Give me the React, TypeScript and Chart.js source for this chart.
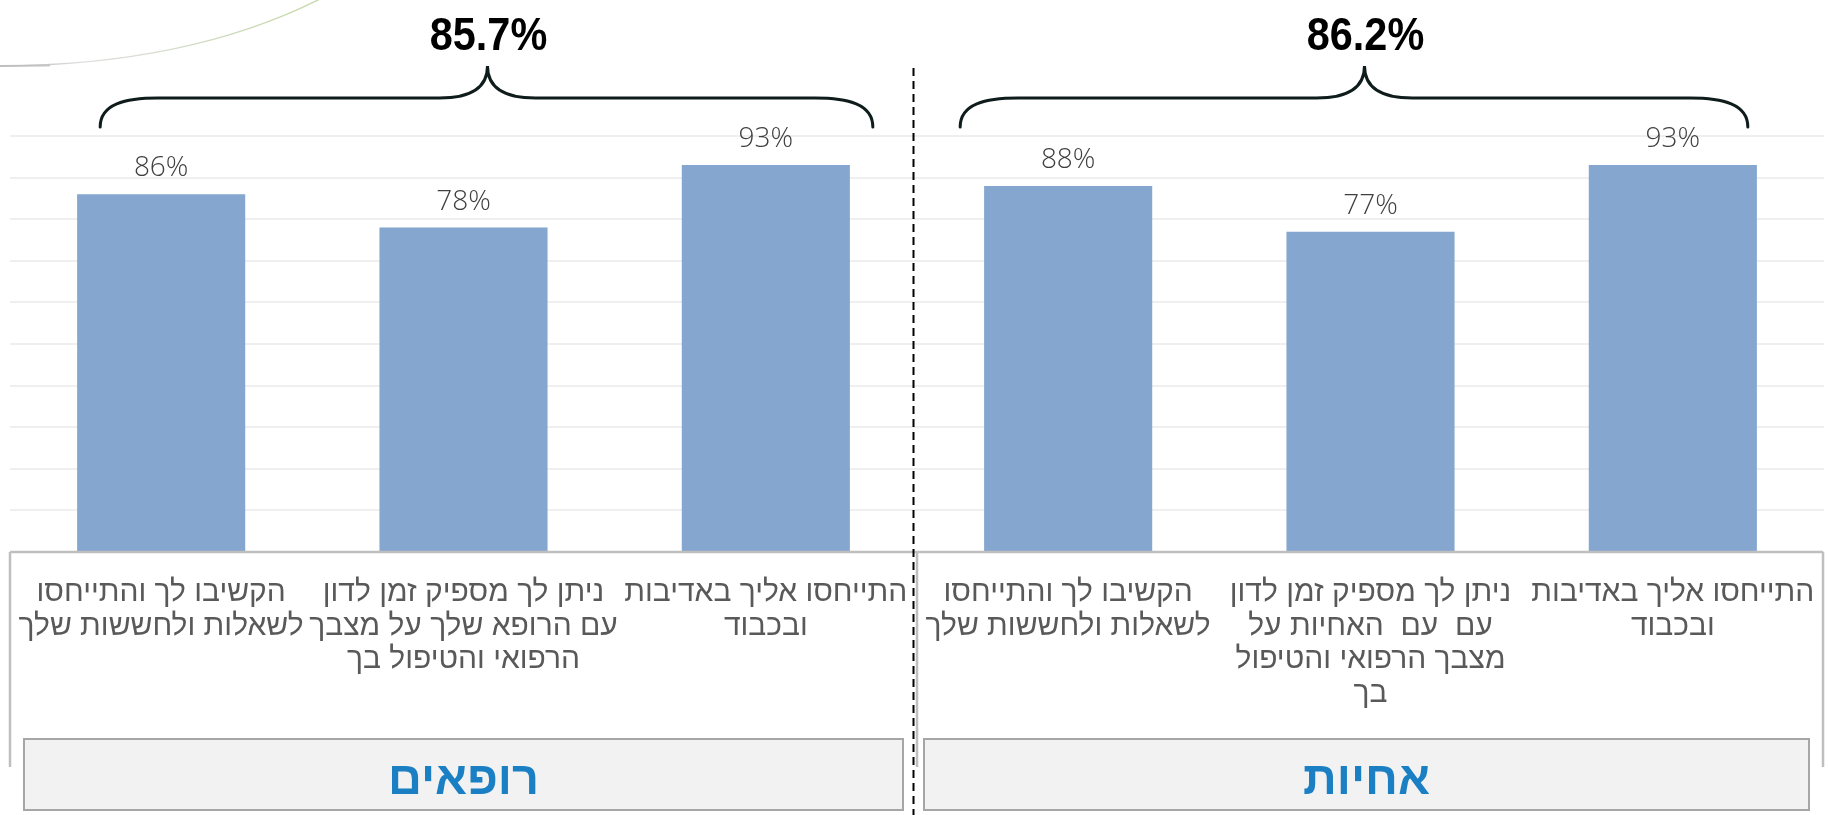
import React, { useEffect, useRef } from "react";
import { Chart, registerables } from "chart.js";

Chart.register(...registerables);

// ---- data ----
const categoryLabels: string[][] = [
  ["הקשיבו לך והתייחסו", "לשאלות ולחששות שלך"],
  ["ניתן לך מספיק זמן לדון", "עם הרופא שלך על מצבך", "הרפואי והטיפול בך"],
  ["התייחסו אליך באדיבות", "ובכבוד"],
  ["הקשיבו לך והתייחסו", "לשאלות ולחששות שלך"],
  ["ניתן לך מספיק זמן לדון", "עם  עם  האחיות על", "מצבך הרפואי והטיפול", "בך"],
  ["התייחסו אליך באדיבות", "ובכבוד"],
];
const values: number[] = [86, 78, 93, 88, 77, 93];
const groupNames: string[] = ["רופאים", "אחיות"];
const groupAverages: string[] = ["85.7%", "86.2%"];
const groupStart: number[] = [0, 3];
const groupEnd: number[] = [2, 5];
const yMin = 0;
const yMax = 100;
const yStep = 10;

export default function App() {
  const ref = useRef<HTMLCanvasElement>(null);

  useEffect(() => {
    const canvas = ref.current!;

    const decor = {
      id: "decor",
      beforeDraw(chart: any) {
        const ctx = chart.ctx as CanvasRenderingContext2D;
        ctx.save();
        ctx.fillStyle = "#ffffff";
        ctx.fillRect(0, 0, chart.width, chart.height);
        // faint decorative arc in the top-left corner
        const g = ctx.createLinearGradient(0, 0, 330, 0);
        g.addColorStop(0, "rgba(170,170,170,0.9)");
        g.addColorStop(0.25, "rgba(215,215,215,0.8)");
        g.addColorStop(1, "rgba(185,210,150,0.9)");
        ctx.strokeStyle = g;
        ctx.lineWidth = 1.3;
        ctx.beginPath();
        ctx.moveTo(322, -2);
        ctx.quadraticCurveTo(190, 65, 0, 66);
        ctx.stroke();
        ctx.strokeStyle = "rgba(190,190,190,0.8)";
        ctx.lineWidth = 2;
        ctx.beginPath();
        ctx.moveTo(0, 66);
        ctx.lineTo(50, 65.5);
        ctx.stroke();
        ctx.restore();
      },
      afterDatasetsDraw(chart: any) {
        const ctx = chart.ctx as CanvasRenderingContext2D;
        const xs = chart.scales.x;
        const ys = chart.scales.y;
        const area = chart.chartArea;
        const meta = chart.getDatasetMeta(0);
        const px = (i: number) => xs.getPixelForValue(i);
        const y0 = ys.getPixelForValue(0);

        ctx.save();
        // value labels
        ctx.fillStyle = "#3f3f3f";
        ctx.font = '300 28px "Open Sans"';
        ctx.textAlign = "center";
        ctx.textBaseline = "alphabetic";
        meta.data.forEach((el: any, i: number) => {
          ctx.fillText(values[i] + "%", el.x, el.y - 18);
        });

        // category frame
        const frameLeft = area.left;
        const frameRight = area.right - 1;
        const frameBottom = 767;
        const sep = (px(2) + px(3)) / 2;
        ctx.strokeStyle = "#bfbfbf";
        ctx.lineWidth = 2.5;
        ctx.beginPath();
        ctx.moveTo(frameLeft, y0);
        ctx.lineTo(frameRight, y0);
        ctx.moveTo(frameLeft, y0);
        ctx.lineTo(frameLeft, frameBottom);
        ctx.moveTo(frameRight, y0);
        ctx.lineTo(frameRight, frameBottom);
        ctx.moveTo(sep, y0);
        ctx.lineTo(sep, frameBottom);
        ctx.stroke();

        // category labels
        ctx.fillStyle = "#595959";
        ctx.font = '30px "Liberation Sans"';
        ctx.textAlign = "center";
        categoryLabels.forEach((lines, i) => {
          lines.forEach((line, k) => {
            ctx.fillText(line, px(i), 601 + k * 33.5);
          });
        });

        // group boxes
        const boxes = [
          [frameLeft + 14, sep - 14],
          [sep + 7, frameRight - 14],
        ];
        groupNames.forEach((name, gi) => {
          const [bx1, bx2] = boxes[gi];
          ctx.fillStyle = "#f2f2f2";
          ctx.fillRect(bx1, 739, bx2 - bx1, 71);
          ctx.strokeStyle = "#a6a6a6";
          ctx.lineWidth = 2;
          ctx.strokeRect(bx1, 739, bx2 - bx1, 71);
          ctx.fillStyle = "#1b7fc4";
          ctx.font = 'bold 47px "Liberation Sans"';
          ctx.textAlign = "center";
          ctx.fillText(name, (bx1 + bx2) / 2, 794);
        });

        // braces and averages
        const braceDefs = [
          { x1: px(groupStart[0]) - 61, x2: px(groupEnd[0]) + 107, tip: px(1) + 24 },
          { x1: px(groupStart[1]) - 108, x2: px(groupEnd[1]) + 75, tip: px(4) - 6 },
        ];
        const yEnd = 127, yBar = 98, yTip = 66;
        ctx.strokeStyle = "#0f1c1c";
        ctx.lineWidth = 3;
        ctx.lineCap = "round";
        braceDefs.forEach((b, gi) => {
          ctx.beginPath();
          ctx.moveTo(b.x1, yEnd);
          ctx.bezierCurveTo(b.x1, yBar + 6, b.x1 + 25, yBar, b.x1 + 58, yBar);
          ctx.lineTo(b.tip - 48, yBar);
          ctx.bezierCurveTo(b.tip - 14, yBar, b.tip, yBar - 12, b.tip, yTip);
          ctx.bezierCurveTo(b.tip, yBar - 12, b.tip + 14, yBar, b.tip + 48, yBar);
          ctx.lineTo(b.x2 - 58, yBar);
          ctx.bezierCurveTo(b.x2 - 25, yBar, b.x2, yBar + 6, b.x2, yEnd);
          ctx.stroke();
          ctx.save();
          ctx.translate(b.tip + 1, 50);
          ctx.scale(0.9, 1);
          ctx.fillStyle = "#000000";
          ctx.font = 'bold 46px "Liberation Sans"';
          ctx.textAlign = "center";
          ctx.fillText(groupAverages[gi], 0, 0);
          ctx.restore();
        });

        // dashed divider
        ctx.strokeStyle = "#000000";
        ctx.lineWidth = 2;
        ctx.lineCap = "butt";
        ctx.setLineDash([8, 5]);
        ctx.beginPath();
        ctx.moveTo(sep - 3.5, 68);
        ctx.lineTo(sep - 3.5, chart.height);
        ctx.stroke();
        ctx.setLineDash([]);
        ctx.restore();
      },
    };

    const chart = new Chart(canvas, {
      type: "bar",
      data: {
        labels: categoryLabels.map((l) => l.join(" ")),
        datasets: [
          {
            data: values,
            backgroundColor: "#84a6cf",
            barPercentage: 0.556,
            categoryPercentage: 1,
          },
        ],
      },
      options: {
        animation: false,
        responsive: false,
        devicePixelRatio: 1,
        layout: { padding: { left: 10, right: 5, top: 136, bottom: 263 } },
        plugins: { legend: { display: false }, tooltip: { enabled: false } },
        scales: {
          x: { display: false },
          y: {
            min: yMin,
            max: yMax,
            ticks: { display: false, stepSize: yStep },
            grid: { color: "#efefef", lineWidth: 2, drawTicks: false },
            border: { display: false },
          },
        },
      },
      plugins: [decor],
    } as any);

    return () => chart.destroy();
  }, []);

  return (
    <div style={{ position: "absolute", left: 0, top: 0, width: 1829, height: 815, background: "#fff" }}>
      <canvas ref={ref} width={1829} height={815} style={{ display: "block" }} />
    </div>
  );
}
